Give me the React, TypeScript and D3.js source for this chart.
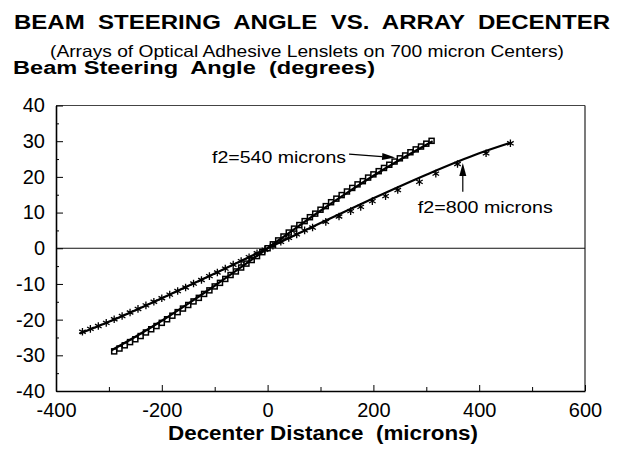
import { useRef, useEffect } from 'react';
import * as d3 from 'd3';

// measured points, f2 = 540 microns (decenter in microns, angle in degrees)
const x540 = [
  -290, -280, -270, -260, -250, -240, -230, -220, -210, -200, -190, -180, -170, -160, -150, -140,
  -130, -120, -110, -100, -90, -80, -70, -60, -50, -40, -30, -20, -10, 0, 10, 20, 30, 40, 50, 60,
  70, 80, 90, 100, 110, 120, 130, 140, 150, 160, 170, 180, 190, 200, 210, 220, 230, 240, 250, 260,
  270, 280, 290, 300, 310,
];
const y540 = [
  -28.9, -28.1, -27.2, -26.3, -25.5, -24.6, -23.6, -22.7, -21.8, -20.9, -19.9, -18.9, -17.9, -16.9,
  -15.9, -14.9, -13.9, -12.8, -11.8, -10.7, -9.7, -8.6, -7.5, -6.5, -5.4, -4.3, -3.3, -2.2, -1.1, 0,
  1.1, 2.2, 3.3, 4.4, 5.5, 6.5, 7.6, 8.7, 9.7, 10.8, 11.8, 12.9, 13.9, 14.9, 15.9, 16.9, 17.9, 18.8,
  19.8, 20.7, 21.6, 22.5, 23.4, 24.3, 25.2, 26.0, 26.9, 27.7, 28.5, 29.3, 30.1,
];

// measured points, f2 = 800 microns
const x800 = [
  -350, -335, -320, -305, -290, -275, -260, -245, -230, -215, -200, -185, -170, -155, -140, -125,
  -110, -95, -80, -65, -50, -35, -20, -5, 10, 25, 40, 55, 70, 85, 110, 135, 157, 176, 198, 223, 246,
  287, 318, 359, 413, 459,
];
const y800 = [
  -23.4, -22.6, -21.8, -20.9, -19.9, -19.0, -18.0, -17.0, -16.0, -15.0, -14.0, -13.0, -12.0, -11.0,
  -9.9, -8.9, -7.8, -6.8, -5.7, -4.6, -3.6, -2.5, -1.4, -0.4, 0.7, 1.8, 2.9, 3.9, 5.0, 5.8, 7.4, 8.9,
  10.4, 11.6, 13.2, 14.6, 16.3, 18.6, 20.9, 23.6, 26.6, 29.4,
];

// fitted curves
const fitX540 = [-295, -250, -200, -150, -100, -50, 0, 50, 100, 150, 200, 250, 312];
const fitY540 = [-28.6, -24.8, -20.3, -15.5, -10.5, -5.3, 0, 5.3, 10.5, 15.5, 20.3, 24.8, 30.0];
const fitX800 = [-355, -300, -200, -100, 0, 100, 200, 300, 400, 460];
const fitY800 = [-23.9, -20.6, -14.0, -7.1, 0, 7.1, 14.0, 20.6, 26.6, 29.6];

const xTicks = [-400, -200, 0, 200, 400, 600];
const xMinor = [-300, -100, 100, 300, 500];
const yTicks = [-40, -30, -20, -10, 0, 10, 20, 30, 40];
const yMinor = [-35, -25, -15, -5, 5, 15, 25, 35];

const FONT = '"Liberation Sans", Arial, Helvetica, sans-serif';

export default function App() {
  const svgRef = useRef(null);
  const width = 627;
  const height = 450;
  const margin = { top: 105.5, right: 42, bottom: 59, left: 56 };

  useEffect(() => {
    if (!svgRef.current) return;
    const innerW = width - margin.left - margin.right;
    const innerH = height - margin.top - margin.bottom;

    const x = d3.scaleLinear().domain([-400, 600]).range([0, innerW]);
    const y = d3.scaleLinear().domain([-40, 40]).range([innerH, 0]);

    const svg = d3.select(svgRef.current);
    svg.selectAll('*').remove();
    svg.attr('width', width).attr('height', height);

    // titles
    svg.append('text')
      .attr('x', 14).attr('y', 29)
      .attr('font-family', FONT).attr('font-weight', 'bold').attr('font-size', 20)
      .attr('textLength', 596).attr('lengthAdjust', 'spacingAndGlyphs')
      .attr('xml:space', 'preserve')
      .text('BEAM  STEERING  ANGLE  VS.  ARRAY  DECENTER');
    svg.append('text')
      .attr('x', 50).attr('y', 57)
      .attr('font-family', FONT).attr('font-size', 16.5)
      .attr('textLength', 514).attr('lengthAdjust', 'spacingAndGlyphs')
      .text('(Arrays of Optical Adhesive Lenslets on 700 micron Centers)');
    svg.append('text')
      .attr('x', 13).attr('y', 74)
      .attr('font-family', FONT).attr('font-weight', 'bold').attr('font-size', 17.5)
      .attr('textLength', 362).attr('lengthAdjust', 'spacingAndGlyphs')
      .attr('xml:space', 'preserve')
      .text('Beam Steering  Angle  (degrees)');

    const g = svg.append('g').attr('transform', `translate(${margin.left},${margin.top})`);

    // frame (top + right)
    g.append('line').attr('x1', 0).attr('x2', innerW).attr('y1', 0).attr('y2', 0)
      .attr('stroke', '#444').attr('stroke-width', 1);
    g.append('line').attr('x1', innerW).attr('x2', innerW).attr('y1', 0).attr('y2', innerH)
      .attr('stroke', '#222').attr('stroke-width', 1.2);

    // zero line
    g.append('line').attr('x1', 0).attr('x2', innerW).attr('y1', y(0)).attr('y2', y(0))
      .attr('stroke', '#111').attr('stroke-width', 1);

    const styleAxis = (sel) => {
      sel.selectAll('.domain').attr('stroke', '#000').attr('stroke-width', 1.6);
      sel.selectAll('line').attr('stroke', '#000').attr('stroke-width', 1);
      sel.selectAll('text').attr('fill', '#000').attr('font-family', FONT).attr('font-size', 20);
    };

    // minor ticks
    g.append('g').attr('transform', `translate(0,${innerH})`)
      .call(d3.axisBottom(x).tickValues(xMinor).tickSize(-4).tickFormat(() => ''))
      .call((a) => { a.select('.domain').remove(); a.selectAll('line').attr('stroke', '#000'); });
    g.append('g')
      .call(d3.axisLeft(y).tickValues(yMinor).tickSize(-3).tickFormat(() => ''))
      .call((a) => { a.select('.domain').remove(); a.selectAll('line').attr('stroke', '#000'); });

    // X axis
    g.append('g')
      .attr('transform', `translate(0,${innerH})`)
      .call(d3.axisBottom(x).tickValues(xTicks).tickSizeInner(-6).tickSizeOuter(0).tickPadding(12).tickFormat((d) => String(d)))
      .call(styleAxis);

    // Y axis
    g.append('g')
      .call(d3.axisLeft(y).tickValues(yTicks).tickSizeInner(-7).tickSizeOuter(0).tickPadding(11).tickFormat((d) => String(d)))
      .call(styleAxis);

    // x-axis title
    svg.append('text')
      .attr('x', 323).attr('y', 440)
      .attr('text-anchor', 'middle')
      .attr('font-family', FONT).attr('font-weight', 'bold').attr('font-size', 19.5)
      .attr('textLength', 310).attr('lengthAdjust', 'spacingAndGlyphs')
      .attr('xml:space', 'preserve')
      .text('Decenter Distance  (microns)');

    const line = d3.line()
      .x((d) => x(d[0]))
      .y((d) => y(d[1]))
      .curve(d3.curveMonotoneX);

    // markers: 540 -> squares, 800 -> asterisks
    const pts540 = x540.map((v, i) => [v, y540[i]]);
    const pts800 = x800.map((v, i) => [v, y800[i]]);

    g.append('g').selectAll('rect')
      .data(pts540).join('rect')
      .attr('x', (d) => x(d[0]) - 2.5).attr('y', (d) => y(d[1]) - 2.5)
      .attr('width', 5).attr('height', 5)
      .attr('fill', '#fff').attr('stroke', '#000').attr('stroke-width', 1.5);

    const star = d3.symbol().type(d3.symbolAsterisk).size(40);
    g.append('g').selectAll('path')
      .data(pts800).join('path')
      .attr('transform', (d) => `translate(${x(d[0])},${y(d[1])})`)
      .attr('d', star)
      .attr('fill', 'none').attr('stroke', '#000').attr('stroke-width', 1.3);

    // fitted curves
    g.append('path')
      .datum(fitX540.map((v, i) => [v, fitY540[i]]))
      .attr('fill', 'none').attr('stroke', '#000').attr('stroke-width', 2.2)
      .attr('d', line);
    g.append('path')
      .datum(fitX800.map((v, i) => [v, fitY800[i]]))
      .attr('fill', 'none').attr('stroke', '#000').attr('stroke-width', 2.2)
      .attr('d', line);

    // annotations
    const ann = g.append('g').attr('font-family', FONT).attr('font-size', 17);
    ann.append('text').attr('x', x(-105)).attr('y', y(23.9))
      .attr('textLength', 134).attr('lengthAdjust', 'spacingAndGlyphs')
      .text('f2=540 microns');
    ann.append('text').attr('x', x(284)).attr('y', y(9.9))
      .attr('textLength', 135).attr('lengthAdjust', 'spacingAndGlyphs')
      .text('f2=800 microns');

    const arrow = (x1, y1, x2, y2) => {
      const ax1 = x(x1), ay1 = y(y1), ax2 = x(x2), ay2 = y(y2);
      const ang = Math.atan2(ay2 - ay1, ax2 - ax1);
      const L = 13, W = 3.5;
      const bx = ax2 - L * Math.cos(ang), by = ay2 - L * Math.sin(ang);
      ann.append('line').attr('x1', ax1).attr('y1', ay1).attr('x2', bx).attr('y2', by)
        .attr('stroke', '#000').attr('stroke-width', 1.2);
      ann.append('path')
        .attr('d', `M${ax2},${ay2}L${bx + W * Math.sin(ang)},${by - W * Math.cos(ang)}L${bx - W * Math.sin(ang)},${by + W * Math.cos(ang)}Z`)
        .attr('fill', '#000');
    };
    arrow(154, 26.4, 241, 25.4);
    arrow(369, 15.8, 369, 23.9);
  }, []);

  return (
    <div style={{ position: 'absolute', left: 0, top: 0 }}>
      <svg ref={svgRef} style={{ display: 'block', background: '#fff' }} />
    </div>
  );
}
